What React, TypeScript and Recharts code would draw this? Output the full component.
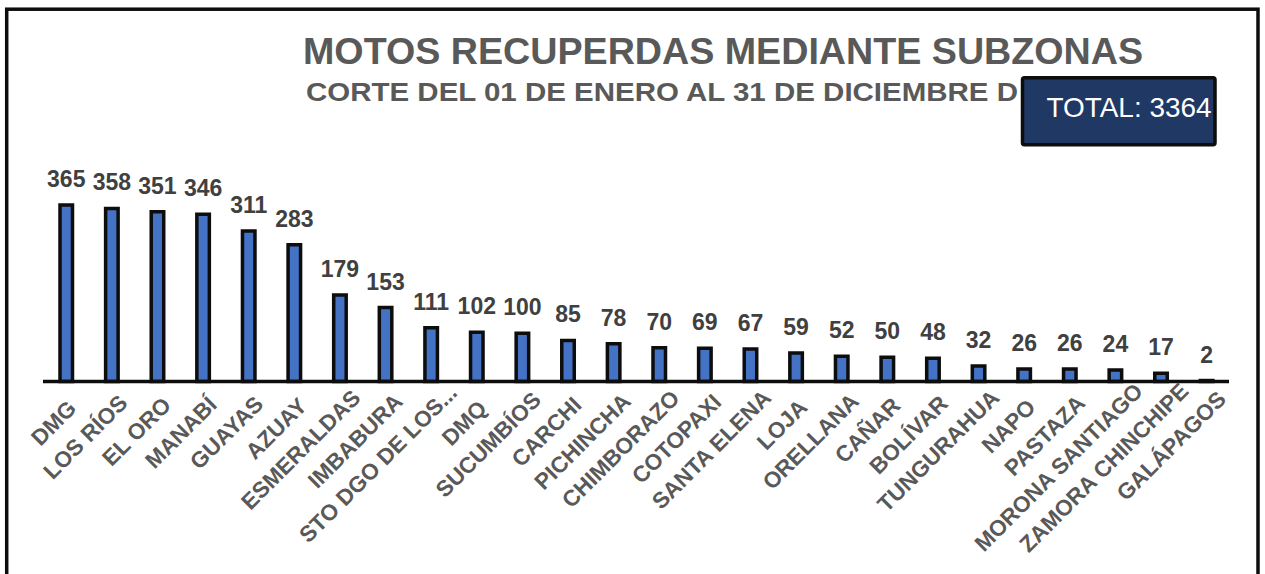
import { BarChart, Bar, XAxis, YAxis, LabelList } from "recharts";

const categories = [
  "DMG", "LOS RÍOS", "EL ORO", "MANABÍ", "GUAYAS", "AZUAY", "ESMERALDAS",
  "IMBABURA", "STO DGO DE LOS...", "DMQ", "SUCUMBÍOS", "CARCHI", "PICHINCHA",
  "CHIMBORAZO", "COTOPAXI", "SANTA ELENA", "LOJA", "ORELLANA", "CAÑAR",
  "BOLÍVAR", "TUNGURAHUA", "NAPO", "PASTAZA", "MORONA SANTIAGO",
  "ZAMORA CHINCHIPE", "GALÁPAGOS",
];
const values = [
  365, 358, 351, 346, 311, 283, 179, 153, 111, 102, 100, 85, 78, 70, 69, 67,
  59, 52, 50, 48, 32, 26, 26, 24, 17, 2,
];
const title = "MOTOS RECUPERDAS MEDIANTE SUBZONAS";
const subtitle = "CORTE DEL 01 DE ENERO AL 31 DE DICIEMBRE D";
const totalText = "TOTAL: 3364";

const data = categories.map((name, i) => ({ name, value: values[i] }));

const FONT = "'Liberation Sans', Arial, sans-serif";
const TICK_SIZE = 22.5;

// rough Arial Bold advance widths (em) for the caps used in the labels
function capWidth(ch: string) {
  if ("IÍ .".includes(ch)) return 0.278;
  if ("LTZF".includes(ch)) return 0.611;
  if ("ESPYVX".includes(ch)) return 0.667;
  if ("OÓGQ".includes(ch)) return 0.778;
  if (ch === "M") return 0.833;
  return 0.722;
}

function textWidth(s: string, size: number) {
  let w = 0;
  for (const ch of s) w += capWidth(ch);
  return w * size;
}

// rotated labels: longer ones sit a little further up the diagonal
function CategoryTick(props: any) {
  const { x, y, payload } = props;
  const label: string = payload.value;
  const len = textWidth(label, TICK_SIZE);
  const along = -19 + 0.14 * len;
  const perp = 28.5;
  const ex = x + 0.7071 * (along + perp);
  const ey = y + 0.7071 * (perp - along);
  return (
    <text
      x={ex}
      y={ey}
      transform={`rotate(-45 ${ex} ${ey})`}
      textAnchor="end"
      fill="#595959"
      fontSize={TICK_SIZE}
      fontWeight="bold"
      fontFamily={FONT}
    >
      {label}
    </text>
  );
}

export default function App() {
  return (
    <div style={{ position: "absolute", left: 0, top: 0, width: 1265, height: 574, background: "#fff", overflow: "hidden" }}>
      <BarChart
        width={1265}
        height={574}
        data={data}
        margin={{ top: 205, right: 36, left: 43, bottom: 0 }}
      >
        <XAxis
          dataKey="name"
          interval={0}
          height={192.5}
          tickLine={false}
          tickSize={0}
          tickMargin={0}
          axisLine={{ stroke: "#0d0d0d", strokeWidth: 3.5 }}
          tick={<CategoryTick />}
        />
        <YAxis hide domain={[0, 365]} />
        <Bar
          dataKey="value"
          barSize={12.5}
          fill="#4472C4"
          stroke="#0d0d0d"
          strokeWidth={3.5}
          isAnimationActive={false}
        >
          <LabelList
            dataKey="value"
            position="top"
            offset={18}
            fill="#404040"
            fontSize={23}
            fontWeight="bold"
            fontFamily={FONT}
          />
        </Bar>
      </BarChart>
      <svg
        width={1265}
        height={574}
        style={{ position: "absolute", left: 0, top: 0, pointerEvents: "none" }}
      >
        <rect x={6.7} y={9.2} width={1251.3} height={620} fill="none" stroke="#0d0d0d" strokeWidth={3.5} />
        <text x={303} y={64.3} textLength={840} lengthAdjust="spacingAndGlyphs" fill="#595959" fontSize={37} fontWeight="bold" fontFamily={FONT}>
          {title}
        </text>
        <text x={306} y={101} textLength={712} lengthAdjust="spacingAndGlyphs" fill="#595959" fontSize={26} fontWeight="bold" fontFamily={FONT}>
          {subtitle}
        </text>
        <rect x={1022.5} y={77.8} width={192.5} height={67} rx={2} fill="#1F3864" stroke="#0d0d0d" strokeWidth={3.5} />
        <text x={1046.5} y={116.7} textLength={165} lengthAdjust="spacingAndGlyphs" fill="#ffffff" fontSize={28} fontFamily={FONT}>
          {totalText}
        </text>
      </svg>
    </div>
  );
}
